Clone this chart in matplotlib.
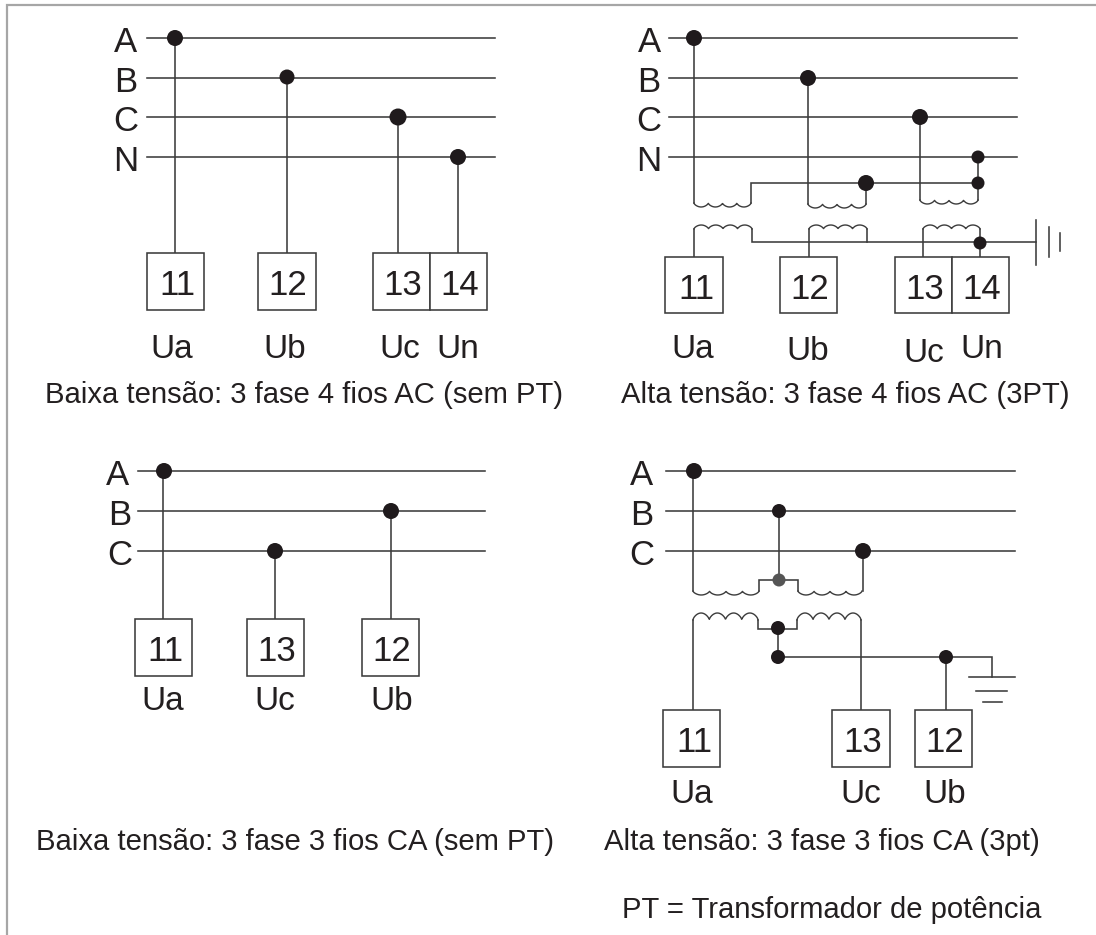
import numpy as np
import matplotlib
matplotlib.use("Agg")
import matplotlib.pyplot as plt
from matplotlib.patches import Rectangle, Circle

plt.rcParams['font.family'] = ['Liberation Sans', 'DejaVu Sans']
LINE = '#3c3c3c'; DOT = '#1f1a1c'; FRAME = '#a6a6a6'; TXT = '#231f20'

# Bus bars: label, y, x0, x1, label x
buses = [('A',38,147,495,126),('B',78,147,495,126),('C',117,147,495,126),('N',157,147,495,126),
         ('A',38,669,1017,649),('B',78,669,1017,649),('C',117,669,1017,649),('N',157,669,1017,649),
         ('A',471,138,485,118),('B',511,138,485,120),('C',551,138,485,120),
         ('A',471,666,1015,642),('B',511,666,1015,642),('C',551,666,1015,642)]
# Terminal boxes: label, x0, x1, y0, y1, text centre x
boxes = [('11',147,204,253,310,177),('12',258,316,253,310,288),('13',373,430,253,310,403),('14',430,487,253,310,460),
         ('11',665,723,257,313,696),('12',780,837,257,313,810),('13',895,952,257,313,925),('14',952,1009,257,313,982),
         ('11',135,192,619,676,165),('13',247,304,619,676,277),('12',362,419,619,676,392),
         ('11',663,720,710,767,694),('13',832,890,710,767,863),('12',915,972,710,767,945)]
# Wires as polylines
wires = [[(175,38),(175,253)],[(287,77),(287,253)],[(398,117),(398,253)],[(458,157),(458,253)],
         [(163,471),(163,619)],[(275,551),(275,619)],[(391,511),(391,619)],
         [(694,38),(694,203)],[(808,78),(808,204)],[(920,117),(920,200)],
         [(751,203),(751,183),(978,183)],[(866,183),(866,204)],[(978,157),(978,200)],
         [(694,229),(694,257)],[(752,229),(752,242),(1036,242)],[(809,229),(809,257)],
         [(867,229),(867,242)],[(923,229),(923,257)],[(980,229),(980,257)],
         [(693,471),(693,591)],[(779,511),(779,580)],[(863,551),(863,591)],
         [(759,591),(759,580),(798,580),(798,591)],
         [(693,620),(693,710)],[(758,620),(758,629),(797,629),(797,620)],[(861,620),(861,710)],
         [(778,629),(778,657)],[(778,657),(992,657),(992,677)],[(946,657),(946,710)]]
# Ground bars
grounds = [[(1036,220),(1036,265)],[(1049,227),(1049,257)],[(1060,233),(1060,251)],
           [(969,677),(1015,677)],[(976,691),(1007,691)],[(983,702),(1002,702)]]
# Dots: x, y, radius, colour
dots = [(175,38,8,DOT),(287,77,7.5,DOT),(398,117,8.5,DOT),(458,157,8,DOT),
        (694,38,8,DOT),(808,78,8,DOT),(920,117,8,DOT),(978,157,6.5,DOT),(866,183,8,DOT),(978,183,6.5,DOT),(980,243,6.5,DOT),
        (164,471,8,DOT),(391,511,8,DOT),(275,551,8,DOT),
        (694,471,8,DOT),(779,511,7,DOT),(863,551,8,DOT),(779,580,6.5,'#555555'),
        (778,628,7,DOT),(778,657,7,DOT),(946,657,7,DOT)]
# Coils: x0, x1, y, direction (+1 bumps downward in pixels, -1 upward), amplitude
coils = [(694,751,204,1,4),(808,866,205,1,4),(920,978,201,1,4),
         (694,752,228,-1,4),(809,867,228,-1,4),(923,980,228,-1,4),
         (693,759,592,1,4),(798,862,592,1,4),
         (693,758,619,-1,7),(797,861,619,-1,7)]
# Voltage labels: text, centre x, baseline y
volts = [('Ua',172,358),('Ub',285,358),('Uc',400,358),('Un',458,358),
         ('Ua',693,358),('Ub',808,360),('Uc',924,362),('Un',982,358),
         ('Ua',163,710),('Uc',275,710),('Ub',392,710),
         ('Ua',692,803),('Uc',861,803),('Ub',945,803)]
# Captions: text, left x, baseline y
captions = [('Baixa tensão: 3 fase 4 fios AC (sem PT)',45,403),
            ('Alta tensão: 3 fase 4 fios AC (3PT)',621,403),
            ('Baixa tensão: 3 fase 3 fios CA (sem PT)',36,850),
            ('Alta tensão: 3 fase 3 fios CA (3pt)',604,850),
            ('PT = Transformador de potência',622,918)]

fig = plt.figure(figsize=(10.96, 9.35), dpi=100)
ax = fig.add_axes([0, 0, 1, 1])
ax.set_xlim(0, 1096); ax.set_ylim(935, 0); ax.axis('off')

ax.plot([7,7,1096],[935,5,5], color=FRAME, lw=1.6, solid_joinstyle='miter')

for name, y, x0, x1, lx in buses:
    ax.plot([x0,x1],[y,y], color=LINE, lw=1.15)
    ax.text(lx, y+14, name, fontsize=25, color=TXT, ha='center', va='baseline')
for pts in wires + grounds:
    xs, ys = zip(*pts)
    ax.plot(xs, ys, color=LINE, lw=1.15, solid_joinstyle='miter')
for x0, x1, y, d, amp in coils:
    t = np.linspace(0, 1, 160)
    bump = np.abs(np.sin(4*np.pi*t))**0.6
    ax.plot(x0+(x1-x0)*t, y + d*(bump*amp - 1), color=LINE, lw=1.0)
for name, x0, x1, y0, y1, tx in boxes:
    ax.add_patch(Rectangle((x0,y0), x1-x0, y1-y0, fc='white', ec=LINE, lw=1.15, zorder=2))
    ax.text(tx, y0+42, name, fontsize=25, color=TXT, ha='center', va='baseline', zorder=3)
for x, y, r, c in dots:
    ax.add_patch(Circle((x,y), r, fc=c, ec='none', zorder=4))
for name, x, y in volts:
    ax.text(x, y, name, fontsize=24, color=TXT, ha='center', va='baseline')
for s, x, y in captions:
    ax.text(x, y, s, fontsize=21.1, color=TXT, ha='left', va='baseline')

fig.savefig('out.png', dpi=100)
